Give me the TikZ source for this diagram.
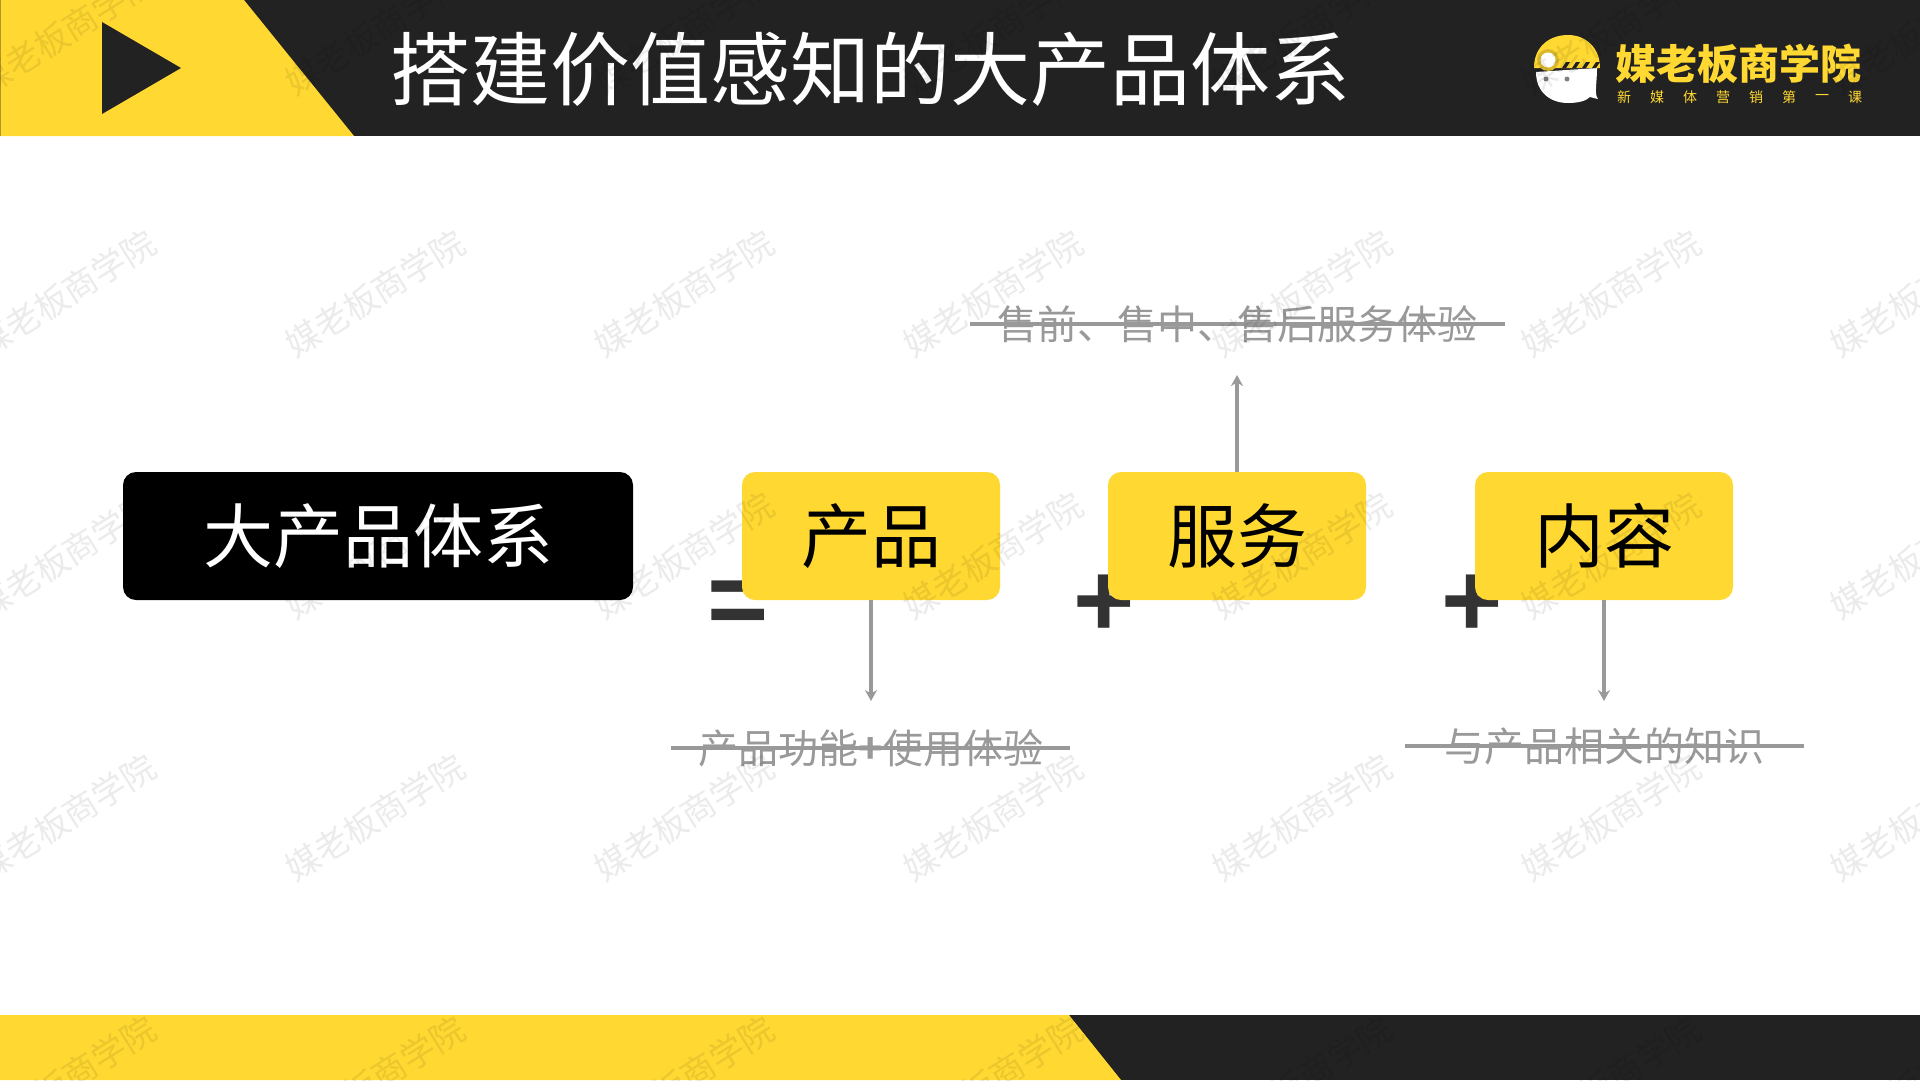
\documentclass[tikz,border=0pt]{standalone}
\usepackage{fontspec}
\setmainfont{Noto Sans CJK SC}
\newfontfamily\signfont{Liberation Sans}
\usetikzlibrary{arrows.meta}
\definecolor{mkyellow}{HTML}{FFD832}
\definecolor{mkdark}{HTML}{222222}
\definecolor{mkgray}{HTML}{999999}
\definecolor{mksign}{HTML}{333333}
\tikzset{
  part/.style={fill=mkyellow, rounded corners=13pt, minimum width=258pt, minimum height=128pt, inner sep=0pt, outer sep=0pt, text height=64pt, text depth=11pt, font=\fontsize{70}{70}\selectfont},
  note/.style={text=mkgray, inner sep=0pt, font=\fontsize{40}{40}\selectfont},
  strike/.style={draw=mkgray, line width=4pt},
  link/.style={draw=mkgray, line width=4pt, -{Stealth[length=11pt,width=12pt]}},
  sign/.style={text=mksign, inner sep=0pt, font=\signfont\bfseries\fontsize{105}{105}\selectfont},
  wmark/.style={rotate=32, opacity=.08, inner sep=0pt, font=\fontsize{34}{34}\selectfont}
}
\def\strikenote(#1,#2,#3,#4,#5,#6){
  \node[note] (#1) at (#2,#3) {#6};
  \coordinate (#1_l) at (#4,#3);
  \coordinate (#1_r) at (#5,#3);
  \draw[strike] (#1_l) -- (#1_r);
}
\begin{document}
\begin{tikzpicture}[x=1pt,y=-1pt]
\useasboundingbox (0,0) rectangle (1920,1080);
\clip (0,0) rectangle (1920,1080);
% header and footer
\fill[mkdark] (0,0) rectangle (1920,136);
\fill[mkyellow] (0,0) -- (244,0) -- (354,136) -- (0,136) -- cycle;
\fill[mkyellow!70!black] (0,0) rectangle (1.2,136);
\fill[mkdark] (102,22) -- (181,68) -- (102,114) -- cycle;
\node[text=white, inner sep=0pt, font=\fontsize{80}{80}\selectfont] (title) at (870,69) {搭建价值感知的大产品体系};
\fill[mkdark] (0,1015) rectangle (1920,1080);
\fill[mkyellow] (0,1015) -- (1069,1015) -- (1121,1080) -- (0,1080) -- cycle;
% logo
\fill[white] (1536,72) .. controls (1536,92) and (1550,103) .. (1568,103) .. controls (1578,103) and (1586,101) .. (1590,97) -- (1598,99) .. controls (1594,94) and (1597,84) .. (1597,68) -- cycle;
\fill[mkyellow] (1534,68) .. controls (1534,46) and (1550,35) .. (1568,35) .. controls (1586,35) and (1600,48) .. (1600,68) -- cycle;
\foreach \sx in {1562,1572,1582,1592}
  \fill[mkdark] (\sx,68) -- (\sx+4,62) -- (\sx+8,62) -- (\sx+4,68) -- cycle;
\fill[mkyellow!85!black] (1548,60) circle (11pt);
\fill[white] (1548,60) circle (7.5pt);
\fill[gray] (1546,79) circle (2.5pt) (1567,79) circle (2.5pt);
\node[text=mkyellow, inner sep=0pt, font=\bfseries\fontsize{41}{41}\selectfont] (brand) at (1738,64) {媒老板商学院};
\foreach \ch [count=\i from 0] in {新,媒,体,营,销,第,一,课}
  \node[text=mkyellow, inner sep=0pt, font=\fontsize{14}{14}\selectfont] (sub\i) at (1624+\i*33,97) {\ch};
% plus and equals sit under the boxes
\node[sign] (eq) at (738,608) {=};
\node[sign] (plus_a) at (1104.5,606) {+};
\node[sign] (plus_b) at (1472,606) {+};
% boxes
\node[part, fill=black, text=white, minimum width=510pt] (whole) at (378,536) {大产品体系};
\node[part] (product) at (871,536) {产品};
\node[part] (service) at (1237,536) {服务};
\node[part] (content) at (1604,536) {内容};
% notes
\strikenote(product_note,871,748,671,1070,产品功能\textbf{+}使用体验)
\strikenote(service_note,1237,324,970,1505,售前、售中、售后服务体验)
\strikenote(content_note,1604,746,1405,1804,与产品相关的知识)
\coordinate (product_end) at (871,701);
\coordinate (service_end) at (1237,375);
\coordinate (content_end) at (1604,701);
\draw[link] (product.south) -- (product_end);
\draw[link] (service.north) -- (service_end);
\draw[link] (content.south) -- (content_end);
% watermark
\foreach \wy [count=\r] in {31,293,555,817,1079}
  \foreach \wx [count=\c] in {66,375,684,993,1302,1611,1920}
    \node[wmark] (wm\r\c) at (\wx,\wy) {媒老板商学院};
\end{tikzpicture}
\end{document}
